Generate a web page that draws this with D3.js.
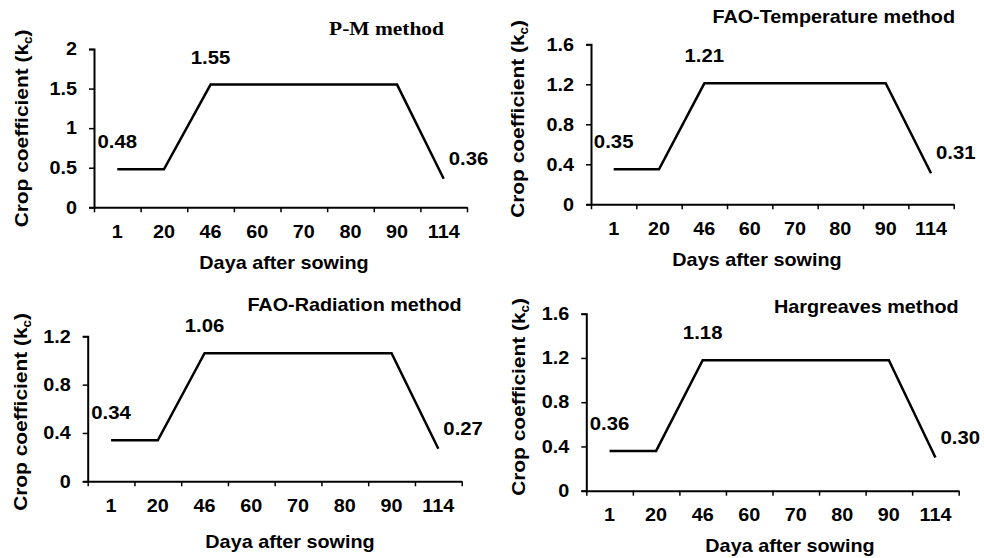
<!DOCTYPE html>
<html>
<head>
<meta charset="utf-8">
<script src="https://cdn.jsdelivr.net/npm/d3@7/dist/d3.min.js"></script>
<style>
body { margin: 0; background: #fff; }
text { font-family: "Liberation Sans", Arial, sans-serif; font-weight: bold; fill: #000; }
</style>
</head>
<body>
<script>
// days after sowing (category axis)
var days = ["1","20","46","60","70","80","90","114"]

// crop coefficient per method
var kc_pm   = [0.48,0.48,1.55,1.55,1.55,1.55,1.55,0.36]
var kc_temp = [0.35,0.35,1.21,1.21,1.21,1.21,1.21,0.31]
var kc_rad  = [0.34,0.34,1.06,1.06,1.06,1.06,1.06,0.27]
var kc_harg = [0.36,0.36,1.18,1.18,1.18,1.18,1.18,0.30]

// y tick values
var yticks_pm   = [0,0.5,1,1.5,2]
var yticks_temp = [0,0.4,0.8,1.2,1.6]
var yticks_rad  = [0,0.4,0.8,1.2]
var yticks_harg = [0,0.4,0.8,1.2,1.6]

// which points get a value label
var label_idx = [0,2,7]

var titles  = ["P-M method","FAO-Temperature method","FAO-Radiation method","Hargreaves method"]
var xtitles = ["Daya after sowing","Days after sowing","Daya after sowing","Daya after sowing"]

// the original lettering is a bit wider than Arial
var sx = 1.1

svg = d3.select("body")
        .append("svg")
        .attr("width", 984)
        .attr("height", 558)

var panels = [
  {vals: kc_pm,   ticks: yticks_pm,   serif: true,
   left: 94,    right: 467,   top: 49,    bottom: 207.3,
   tx: 444,   ty: 35,    ylx: 28,    yly: 128.5, xtx: 284, xty: 269},
  {vals: kc_temp, ticks: yticks_temp, serif: false,
   left: 591,   right: 953.7, top: 44.3,  bottom: 204.3,
   tx: 955,   ty: 23,    ylx: 523.5, yly: 119,   xtx: 757, xty: 266},
  {vals: kc_rad,  ticks: yticks_rad,  serif: false,
   left: 87.7,  right: 461.7, top: 336.3, bottom: 481.3,
   tx: 461.7, ty: 310.5, ylx: 26.7,  yly: 412,   xtx: 290, xty: 548},
  {vals: kc_harg, ticks: yticks_harg, serif: false,
   left: 586.3, right: 958.7, top: 313.7, bottom: 490.7,
   tx: 958.7, ty: 313,   ylx: 525.3, yly: 397,   xtx: 790, xty: 552}
]

function put(g, x, y, extra) {
    return g.append("text")
            .attr("transform", "translate(" + x + "," + y + ")" + (extra || "") + " scale(" + sx + ",1)")
}

panels.forEach(function(p, k) {
    var g = svg.append("g")

    var xband = d3.scaleBand().domain(days).range([p.left, p.right]).padding(0)
    var xedge = d3.scaleLinear().domain([0, days.length]).range([p.left, p.right])
    var yscale = d3.scaleLinear().domain([0, d3.max(p.ticks)]).range([p.bottom, p.top])

    // x axis: tick marks between categories
    var xa = g.append("g")
              .attr("transform", "translate(0," + p.bottom + ")")
              .call(d3.axisBottom(xedge).tickValues(d3.range(days.length + 1))
                      .tickSizeInner(5).tickSizeOuter(0).tickFormat(""))
    xa.select(".domain").attr("stroke-width", 2)
    xa.selectAll(".tick line").attr("stroke-width", 1.5)

    // x axis labels at category centres
    var xl = g.append("g")
              .attr("transform", "translate(0," + p.bottom + ")")
              .call(d3.axisBottom(xband).tickSize(0).tickPadding(18))
    xl.select(".domain").remove()
    xl.selectAll("text").attr("font-size", 18).attr("font-family", null)
      .attr("transform", "scale(" + sx + ",1)")

    // y axis
    var ya = g.append("g")
              .attr("transform", "translate(" + p.left + ",0)")
              .call(d3.axisLeft(yscale).tickValues(p.ticks)
                      .tickSize(5).tickPadding(10.5).tickFormat(d => String(d)))
    ya.select(".domain").attr("stroke-width", 2)
    ya.selectAll(".tick line").attr("stroke-width", 1.5)
    ya.selectAll("text").attr("font-size", 18).attr("font-family", null)
      .attr("transform", "scale(" + sx + ",1)")

    // kc curve
    var line = d3.line()
                 .x((d, i) => xband(days[i]) + xband.bandwidth() / 2)
                 .y(d => yscale(d))
    g.append("path")
     .datum(p.vals)
     .attr("d", line)
     .attr("fill", "none")
     .attr("stroke", "#000")
     .attr("stroke-width", 2.5)

    // value labels
    label_idx.forEach(function(i) {
        var cx = xband(days[i]) + xband.bandwidth() / 2
        var cy = yscale(p.vals[i])
        var last = i == days.length - 1
        put(g, last ? cx + 5 : cx, last ? cy - 14 : cy - 21)
         .attr("text-anchor", last ? "start" : "middle")
         .attr("font-size", 18.5)
         .text(p.vals[i].toFixed(2))
    })

    // panel title
    put(g, p.tx, p.ty)
     .attr("text-anchor", "end")
     .attr("font-size", p.serif ? 19.5 : 18)
     .style("font-family", p.serif ? "'Liberation Serif', 'Times New Roman', serif" : null)
     .text(titles[k])

    // x title
    put(g, p.xtx, p.xty)
     .attr("text-anchor", "middle")
     .attr("font-size", 18)
     .text(xtitles[k])

    // y title with subscript
    var yt = put(g, p.ylx, p.yly, " rotate(-90)")
              .attr("text-anchor", "middle")
              .attr("font-size", 19)
    yt.append("tspan").text("Crop coefficient (k")
    yt.append("tspan").attr("font-size", 12).attr("dy", 4).text("c")
    yt.append("tspan").attr("dy", -4).text(")")
})
</script>
</body>
</html>
